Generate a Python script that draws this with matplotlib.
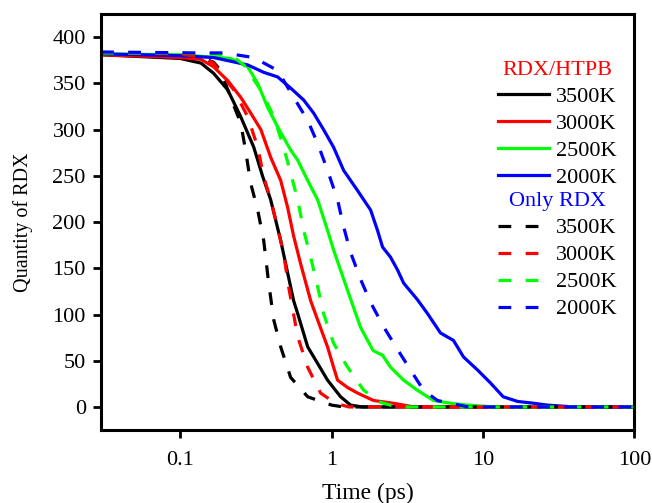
import matplotlib
matplotlib.use("Agg")
import matplotlib.pyplot as plt
import numpy as np

plt.rcParams['font.family'] = ['Liberation Serif', 'DejaVu Serif']

# RDX/HTPB (solid) series
t_htpb_3500 = [0.03, 0.1, 0.137, 0.166, 0.206, 0.251, 0.306, 0.351, 0.396, 0.461, 0.561,
               0.597, 0.695, 0.809, 0.94, 1.147, 1.335, 1.6, 100]
n_htpb_3500 = [381, 377, 372, 361, 343, 314, 281, 249, 224, 180, 115,
               101, 65, 47, 29, 11, 2, 0, 0]

t_htpb_3000 = [0.03, 0.1, 0.137, 0.166, 0.206, 0.251, 0.292, 0.341, 0.396, 0.461, 0.512, 0.561,
               0.624, 0.727, 0.809, 0.94, 1.03, 1.095, 1.275, 1.485, 1.89, 2.56, 3.5, 100]
n_htpb_3000 = [381, 378, 376, 368, 353, 335, 318, 300, 270, 245, 216, 185,
               155, 115, 94, 65, 43, 29, 21, 15, 7, 4, 0, 0]

t_htpb_2500 = [0.03, 0.1, 0.215, 0.279, 0.325, 0.378, 0.44, 0.536, 0.597, 0.695, 0.809,
               0.94, 1.03, 1.275, 1.554, 1.88, 2.17, 2.45, 2.99, 3.69, 4.71, 6.1, 7.9, 12, 100]
n_htpb_2500 = [382, 381, 377, 368, 350, 324, 303, 278, 267, 245, 224,
               191, 170, 126, 86, 61, 56, 43, 29, 18, 7, 4, 2, 0, 0]

t_htpb_2000 = [0.03, 0.1, 0.166, 0.279, 0.356, 0.44, 0.536, 0.654, 0.76, 0.885, 1.03,
               1.2, 1.485, 1.81, 2.01, 2.17, 2.45, 2.73, 2.99, 3.69, 4.3, 5.24, 6.38,
               7.44, 9.2, 11.2, 13.6, 16.9, 21.6, 26.7, 40, 100]
n_htpb_2000 = [382, 380, 378, 370, 362, 357, 345, 332, 318, 300, 281,
               256, 234, 213, 191, 173, 162, 148, 134, 116, 101, 80, 72,
               54, 40, 26, 11, 6, 4, 2, 0, 0]

# Only RDX (dashed) series
t_rdx_3500 = [0.03, 0.1, 0.137, 0.166, 0.185, 0.215, 0.251, 0.27, 0.292, 0.325, 0.356,
              0.384, 0.415, 0.461, 0.536, 0.695, 1.0, 1.2, 100]
n_rdx_3500 = [383, 383, 378, 373, 364, 335, 307, 278, 242, 213, 180,
              134, 94, 65, 32, 11, 2, 0, 0]

t_rdx_3000 = [0.03, 0.1, 0.137, 0.166, 0.185, 0.226, 0.279, 0.325, 0.356, 0.396, 0.44,
              0.482, 0.52, 0.597, 0.695, 0.846, 1.06, 1.3, 100]
n_rdx_3000 = [383, 382, 378, 372, 361, 343, 314, 281, 249, 224, 194,
              166, 130, 76, 43, 15, 4, 0, 0]

t_rdx_2500 = [0.03, 0.1, 0.215, 0.263, 0.34, 0.415, 0.482, 0.536, 0.597, 0.654, 0.727,
              0.809, 0.885, 1.03, 1.275, 1.63, 2.1, 2.7, 100]
n_rdx_2500 = [383, 383, 381, 370, 343, 314, 281, 253, 224, 191, 162,
              130, 101, 69, 43, 18, 5, 0, 0]

t_rdx_2000 = [0.03, 0.123, 0.194, 0.306, 0.44, 0.561, 0.695, 0.809, 0.94, 1.095, 1.2,
              1.335, 1.554, 1.81, 2.2, 2.73, 3.32, 4.05, 5.0, 6.1, 8, 100]
n_rdx_2000 = [384, 383, 383, 378, 364, 335, 310, 285, 256, 224, 195,
              167, 138, 113, 87, 62, 40, 18, 7, 4, 0, 0]

labels = ['3500K', '3000K', '2500K', '2000K']
colors = ['#000000', '#ff0000', '#00ff00', '#0000ff']

fig = plt.figure(figsize=(6.52, 5.03), dpi=100)
ax = fig.add_axes([0.155, 0.145, 0.818, 0.827])

solid_t = [t_htpb_3500, t_htpb_3000, t_htpb_2500, t_htpb_2000]
solid_n = [n_htpb_3500, n_htpb_3000, n_htpb_2500, n_htpb_2000]
dash_t = [t_rdx_3500, t_rdx_3000, t_rdx_2500, t_rdx_2000]
dash_n = [n_rdx_3500, n_rdx_3000, n_rdx_2500, n_rdx_2000]

solid_lines = []
for t, n, c, lab in zip(solid_t, solid_n, colors, labels):
    ln, = ax.plot(t, n, color=c, lw=2.3, label=lab)
    solid_lines.append(ln)

dash_lines = []
for t, n, c, lab in zip(dash_t, dash_n, colors, labels):
    ln, = ax.plot(t, n, color=c, lw=2.3, ls=(0, (4, 4.5)), label=lab)
    dash_lines.append(ln)

ax.set_xscale('log')
ax.set_xlim(0.03, 100)
ax.set_ylim(-25, 425)
ax.set_xticks([0.1, 1, 10, 100])
ax.set_xticklabels(['0.1', '1', '10', '100'])
ax.xaxis.set_minor_locator(matplotlib.ticker.NullLocator())
ax.set_yticks(np.arange(0, 401, 50))

ax.tick_params(axis='both', which='major', direction='out', length=6, width=2,
               labelsize=16, pad=5)
ax.tick_params(axis='x', pad=9)
for s in ax.spines.values():
    s.set_linewidth(2.2)

ax.set_xlabel('Time (ps)', fontsize=17, labelpad=9.5)
ax.set_ylabel('Quantity of RDX', fontsize=14.5, labelpad=14)

leg1 = ax.legend(handles=solid_lines, title='RDX/HTPB', loc='upper right',
                 bbox_to_anchor=(1.0, 0.93), frameon=False, fontsize=16,
                 title_fontsize=16, handlelength=2.3, handletextpad=0.3,
                 labelspacing=0.29, borderaxespad=0.4)
leg1.get_title().set_color('#ff0000')
ax.add_artist(leg1)

leg2 = ax.legend(handles=dash_lines, title='Only RDX', loc='upper right',
                 bbox_to_anchor=(1.0, 0.614), frameon=False, fontsize=16,
                 title_fontsize=16, handlelength=2.3, handletextpad=0.3,
                 labelspacing=0.29, borderaxespad=0.4)
leg2.get_title().set_color('#0000ff')

fig.savefig('out.png', dpi=100)
